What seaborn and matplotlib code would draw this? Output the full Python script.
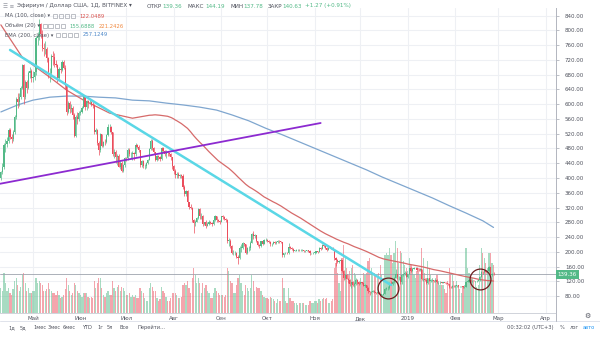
import numpy as np
import pandas as pd
import matplotlib
matplotlib.use("Agg")
import matplotlib.pyplot as plt
import matplotlib.dates as mdates
import matplotlib.transforms as mtrans
from matplotlib.patches import Rectangle
import seaborn as sns

sns.set_theme(style="white")
plt.rcParams["font.family"] = ["DejaVu Sans"]

# ---------------- data (ETH/USD, Bitfinex, daily) ----------------
first_day = "2018-04-10"
open0 = 400.0
close = [
    415, 430, 490, 492, 500, 530, 510, 505, 525, 565, 615, 605, 620, 645, 705, 620, 660, 645, 685, 690, 670,
    673, 686, 779, 785, 816, 790, 752, 750, 750, 725, 678, 684, 730, 729, 708, 707, 670, 695, 694, 715, 699, 650, 579, 604, 586, 591, 571, 514, 566, 561, 577,
    579, 591, 619, 592, 608, 605, 606, 601, 598, 525, 530, 495, 476, 518, 488, 498, 497, 516, 537, 537, 525, 465, 470, 456, 459, 430, 441, 420, 434, 455,
    454, 475, 465, 466, 468, 465, 490, 484, 475, 434, 447, 432, 433, 440, 450, 478, 500, 480, 470, 449, 460, 456, 451, 480, 474, 464, 470, 468, 466, 457, 432,
    420, 409, 411, 405, 408, 406, 375, 356, 365, 334, 321, 319, 286, 277, 281, 292, 316, 296, 298, 274, 280, 271, 276, 280, 278, 274, 286, 296, 285, 283, 281,
    296, 294, 289, 285, 230, 230, 215, 197, 197, 198, 186, 182, 211, 211, 223, 220, 198, 209, 210, 225, 247, 242, 245, 229, 219, 215, 228, 222, 231, 233,
    230, 227, 220, 222, 226, 225, 227, 229, 228, 226, 190, 196, 197, 196, 213, 210, 208, 203, 203, 205, 206, 204, 204, 205, 202, 203, 204, 203, 196, 196, 198,
    198, 201, 200, 209, 208, 218, 217, 210, 205, 211, 212, 210, 206, 182, 178, 173, 176, 178, 149, 130, 138, 126, 124, 113, 117, 110, 112, 124, 119, 113,
    117, 116, 108, 109, 103, 93, 91, 92, 95, 91, 89, 90, 86, 84, 84, 86, 100, 101, 101, 114, 113, 118, 130, 140, 131, 132, 117, 137, 139, 143, 133,
    140, 155, 148, 153, 156, 157, 151, 150, 152, 126, 126, 124, 115, 128, 121, 123, 123, 120, 124, 117, 117, 118, 116, 117, 116, 115, 112, 105, 104, 108, 106,
    107, 110, 106, 106, 107, 104, 104, 119, 119, 124, 120, 122, 121, 121, 121, 123, 133, 146, 145, 149, 145, 148, 158, 136, 140, 139.36,
]
high = [
    420, 440, 495, 505, 510, 535, 535, 520, 530, 570, 620, 630, 630, 650, 710, 710, 665, 665, 690, 700, 695,
    690, 690, 785, 795, 830, 820, 800, 765, 770, 755, 728, 698, 735, 745, 740, 720, 710, 700, 710, 720, 720, 705, 655, 610, 610, 600, 595, 575, 570, 580, 582,
    585, 595, 625, 622, 612, 612, 612, 610, 605, 600, 535, 532, 500, 522, 520, 500, 505, 520, 545, 545, 540, 525, 478, 475, 465, 465, 445, 445, 437, 456,
    458, 480, 480, 470, 472, 470, 495, 492, 490, 477, 450, 450, 437, 442, 452, 480, 505, 505, 485, 470, 462, 462, 460, 485, 485, 475, 475, 472, 470, 468, 458,
    435, 425, 415, 415, 410, 412, 410, 380, 368, 367, 336, 330, 322, 290, 285, 295, 320, 320, 305, 300, 282, 285, 280, 285, 283, 282, 290, 300, 298, 290, 285,
    298, 300, 297, 292, 288, 238, 235, 218, 205, 202, 200, 190, 215, 222, 226, 225, 220, 212, 215, 228, 250, 255, 248, 246, 230, 222, 230, 232, 236, 238,
    235, 233, 228, 225, 228, 229, 228, 232, 231, 230, 227, 198, 200, 200, 225, 215, 212, 210, 206, 207, 208, 208, 207, 207, 206, 204, 206, 206, 205, 198, 200,
    200, 203, 203, 212, 212, 220, 222, 219, 212, 213, 215, 214, 212, 207, 185, 180, 177, 180, 179, 150, 141, 140, 130, 126, 118, 120, 118, 128, 126, 122,
    119, 119, 117, 112, 110, 104, 95, 94, 97, 96, 92, 91, 91, 88, 86, 87, 102, 105, 106, 117, 120, 120, 132, 152, 141, 135, 133, 139, 141, 148, 145,
    141, 157, 158, 155, 160, 160, 160, 155, 155, 153, 130, 129, 126, 130, 130, 125, 125, 124, 126, 125, 119, 120, 119, 119, 119, 117, 116, 113, 106, 110, 109,
    109, 111, 110, 108, 108, 107, 106, 122, 121, 127, 125, 123, 123, 122, 123, 124, 135, 149, 148, 152, 150, 150, 161, 160, 143, 144.19,
]
low = [
    395, 410, 425, 470, 485, 495, 505, 495, 500, 520, 560, 590, 595, 615, 640, 600, 615, 630, 640, 670, 660,
    660, 665, 680, 760, 775, 780, 745, 730, 735, 715, 670, 660, 675, 705, 700, 700, 660, 665, 685, 690, 695, 640, 570, 575, 575, 580, 560, 510, 510, 545, 555,
    570, 575, 590, 585, 585, 590, 600, 595, 590, 520, 520, 490, 462, 470, 485, 485, 490, 495, 515, 525, 520, 460, 455, 440, 435, 430, 425, 415, 415, 430,
    445, 450, 460, 455, 450, 450, 460, 480, 470, 430, 430, 428, 425, 428, 438, 448, 475, 475, 465, 445, 445, 450, 445, 448, 470, 460, 455, 460, 460, 450, 425,
    410, 400, 400, 400, 400, 400, 370, 350, 350, 330, 315, 315, 280, 252, 270, 280, 290, 290, 290, 270, 272, 265, 270, 272, 274, 270, 272, 284, 282, 280, 276,
    280, 290, 285, 282, 225, 215, 210, 193, 190, 192, 184, 168, 180, 200, 208, 215, 195, 195, 202, 205, 223, 235, 238, 226, 215, 210, 212, 218, 220, 228,
    227, 225, 215, 217, 220, 222, 222, 225, 225, 224, 185, 186, 194, 193, 194, 207, 205, 200, 201, 202, 203, 201, 202, 202, 200, 200, 201, 200, 192, 193, 194,
    195, 196, 198, 199, 204, 207, 214, 208, 203, 204, 209, 207, 204, 178, 162, 170, 170, 173, 146, 124, 126, 125, 115, 107, 103, 107, 104, 110, 114, 110,
    112, 114, 107, 105, 102, 89, 84, 88, 90, 89, 85, 87, 85, 82, 81, 83, 85, 96, 97, 100, 110, 111, 116, 128, 125, 124, 113, 114, 134, 136, 131,
    130, 139, 145, 147, 152, 154, 148, 147, 148, 123, 121, 122, 113, 113, 120, 118, 121, 119, 118, 115, 114, 114, 115, 115, 115, 114, 111, 103, 101, 102, 104,
    105, 105, 105, 105, 105, 102, 103, 104, 117, 117, 119, 118, 120, 119, 119, 120, 122, 131, 139, 143, 143, 142, 146, 132, 135, 137.78,
]
volume = [  # thousand ETH
    25, 22, 40, 30, 22, 25, 20, 18, 24, 32, 35, 28, 22, 26, 38, 40, 30, 22, 25, 20, 20,
    22, 22, 35, 30, 32, 30, 28, 22, 22, 24, 30, 24, 22, 20, 20, 18, 22, 18, 15, 16, 18, 24, 35, 28, 22, 18, 20, 30, 28, 22, 20,
    18, 16, 20, 20, 20, 16, 15, 16, 15, 32, 25, 30, 35, 35, 25, 18, 16, 20, 22, 18, 18, 32, 25, 22, 26, 28, 22, 26, 25, 22,
    18, 18, 20, 16, 18, 16, 18, 15, 15, 25, 22, 20, 15, 12, 12, 25, 30, 26, 22, 22, 15, 12, 14, 26, 22, 20, 16, 12, 12, 15, 20,
    20, 20, 18, 15, 15, 16, 28, 30, 28, 32, 25, 20, 35, 45, 38, 30, 35, 30, 20, 30, 25, 28, 22, 20, 15, 15, 20, 25, 22, 20, 18,
    18, 18, 16, 18, 45, 42, 32, 30, 20, 20, 28, 35, 38, 30, 22, 18, 28, 25, 22, 25, 38, 32, 22, 26, 25, 25, 22, 18, 16, 15,
    15, 14, 16, 15, 14, 12, 10, 14, 12, 12, 35, 25, 12, 10, 25, 15, 12, 12, 10, 10, 8, 10, 10, 10, 10, 8, 8, 8, 12, 10, 10,
    12, 12, 10, 14, 12, 14, 15, 14, 15, 10, 10, 12, 14, 45, 50, 40, 30, 22, 55, 68, 55, 45, 38, 42, 45, 48, 40, 38, 32, 30,
    35, 30, 40, 38, 40, 52, 55, 45, 38, 40, 38, 35, 40, 48, 38, 35, 58, 60, 58, 65, 58, 50, 60, 72, 65, 50, 62, 60, 52, 48, 45,
    42, 55, 48, 45, 38, 35, 42, 45, 38, 65, 55, 40, 35, 52, 45, 38, 35, 32, 35, 38, 32, 28, 28, 28, 24, 20, 32, 45, 40, 38, 32,
    28, 32, 28, 24, 20, 26, 28, 65, 45, 40, 38, 35, 33, 32, 26, 28, 48, 65, 60, 55, 50, 45, 60, 60, 50, 48,
]
# MA(100) before enough daily history is in view
ma100_early_dates = ["2018-04-10", "2018-04-24", "2018-05-12", "2018-05-23", "2018-06-03",
                     "2018-06-20", "2018-07-05", "2018-07-16"]
ma100_early_vals = [815, 727, 673, 638, 611, 576, 562, 570]
# EMA(200)
ema200_dates = ["2018-04-10", "2018-04-21", "2018-05-01", "2018-05-12", "2018-05-23", "2018-06-02",
                "2018-06-13", "2018-06-24", "2018-07-05", "2018-07-16", "2018-07-27", "2018-08-07",
                "2018-08-18", "2018-08-29", "2018-09-08", "2018-09-19", "2018-09-30", "2018-10-11",
                "2018-10-22", "2018-11-02", "2018-11-13", "2018-11-24", "2018-12-05", "2018-12-15",
                "2018-12-26", "2019-01-06", "2019-01-17", "2019-01-28", "2019-02-08", "2019-02-19",
                "2019-02-26"]
ema200_vals = [579, 598, 611, 619, 622, 622, 619, 617, 611, 609, 603, 598, 592, 584, 571, 555,
               535, 517, 498, 479, 460, 441, 422, 403, 384, 365, 346, 325, 305, 284, 266]

# drawings
cyan_dates = ["2018-04-16", "2018-12-21"]
cyan_prices = [747, 110]
purple_dates = ["2018-04-09", "2018-11-05"]
purple_prices = [384, 549]
circle_dates = ["2018-12-19", "2019-02-17"]
circle_prices = [102, 126]

month_ticks = ["2018-05-01", "2018-06-01", "2018-07-01", "2018-08-01", "2018-09-01", "2018-10-01",
               "2018-11-01", "2018-12-01", "2019-01-01", "2019-02-01", "2019-03-01", "2019-04-01"]
month_labels = ["Май", "Июн", "Июл", "Авг", "Сен", "Окт", "Ноя", "Дек", "2019", "Фев", "Мар", "Апр"]
price_ticks = list(range(80, 881, 40))

assert len(close) == len(high) == len(low) == len(volume), (len(close), len(high), len(low), len(volume))
assert len(ema200_dates) == len(ema200_vals)

# ---------------- derived series ----------------
dates = pd.date_range(first_day, periods=len(close), freq="D")
x = mdates.date2num(dates)
c = np.array(close, float)
o = np.array([open0] + close[:-1], float)
hi = np.maximum(np.array(high, float), np.maximum(o, c))
lo = np.minimum(np.array(low, float), np.minimum(o, c))
vol = np.array(volume, float)
up = c >= o

GREEN = "#53b987"
RED = "#eb4d5c"
cols = np.where(up, GREEN, RED)

cs = pd.Series(c, index=dates)
ma_late = cs.rolling(100).mean().dropna()
ma_df = pd.concat([
    pd.DataFrame({"d": mdates.date2num(pd.to_datetime(ma100_early_dates)), "v": ma100_early_vals}),
    pd.DataFrame({"d": mdates.date2num(ma_late.index), "v": ma_late.values}),
])
ema_df = pd.DataFrame({"d": mdates.date2num(pd.to_datetime(ema200_dates)), "v": ema200_vals})

# ---------------- figure / layout ----------------
W, H = 600, 337
fig = plt.figure(figsize=(W / 100, H / 100), dpi=100)
fig.patch.set_facecolor("white")

def fx(px):
    return px / W

def fy(py):
    return 1 - py / H

rect = [0, fy(313), fx(556), (313 - 8) / H]
ax_v = fig.add_axes(rect, zorder=0)
ax = fig.add_axes(rect, zorder=1)
ax.set_facecolor("none")

may1 = mdates.date2num(pd.Timestamp("2018-05-01"))
ppd = 1.53
xlim = (may1 - 33 / ppd, may1 + (556 - 33) / ppd)
ylim = (34.1, 860.7)

# grid on the background axes
grid_c = "#eef0f4"
for t in month_ticks:
    ax_v.axvline(mdates.date2num(pd.Timestamp(t)), color=grid_c, lw=0.8, zorder=0)
blend = mtrans.blended_transform_factory(ax_v.transAxes, ax.transData)
for p in price_ticks:
    ax_v.plot([0, 1], [p, p], transform=blend, color=grid_c, lw=0.8, zorder=0)

# volume
ax_v.bar(x, vol, width=0.8, color=cols, alpha=0.5, linewidth=0, zorder=1)
ax_v.axis("off")

# indicators
sns.lineplot(data=ema_df, x="d", y="v", ax=ax, color="#7fa6cf", lw=0.9, zorder=2)
sns.lineplot(data=ma_df, x="d", y="v", ax=ax, color="#d66a6a", lw=0.9, zorder=2)

# candles
ax.vlines(x, lo, hi, color=cols, lw=0.5, zorder=3)
body = np.maximum(np.abs(c - o), 0.8)
ax.bar(x, body, bottom=np.minimum(o, c), width=0.75, color=cols, linewidth=0, zorder=3)

# drawings
ax.plot(mdates.date2num(pd.to_datetime(cyan_dates)), cyan_prices, color="#5ad7e6", lw=1.8, zorder=4,
        solid_capstyle="round")
ax.plot(mdates.date2num(pd.to_datetime(purple_dates)), purple_prices, color="#8c2ad0", lw=1.3, zorder=4)
ax.plot(mdates.date2num(pd.to_datetime(circle_dates)), circle_prices, ls="none", marker="o",
        markersize=15, markerfacecolor="none", markeredgecolor="#6b1d1d", markeredgewidth=0.9, zorder=5)

# last price line
ax.axhline(c[-1], color="#9ea3ad", lw=0.6, zorder=1.5)

# limits (after all plotting)
for a in (ax, ax_v):
    a.set_xlim(*xlim)
ax.set_ylim(*ylim)
ax_v.set_ylim(0, vol.max() * 305 / 72)

# axes styling
ax.set_xlabel("")
ax.set_ylabel("")
ax.yaxis.tick_right()
ax.set_yticks(price_ticks)
ax.set_yticklabels([f"{p:.2f}" for p in price_ticks])
ax.set_xticks(mdates.date2num(pd.to_datetime(month_ticks)))
ax.set_xticklabels(month_labels)
ax.tick_params(axis="y", labelsize=4.0, colors="#b2b5be", labelcolor="#50535e", length=2.5, width=0.6, pad=4, right=True, left=False)
ax.tick_params(axis="x", labelsize=4.0, labelcolor="#50535e", length=0, pad=2.5)
ax.set_ylim(*ylim)
for s in ["top", "left"]:
    ax.spines[s].set_visible(False)
ax.spines["right"].set_color("#b2b5be")
ax.spines["right"].set_linewidth(0.7)
ax.spines["bottom"].set_color("#d0d3da")
ax.spines["bottom"].set_linewidth(0.7)

# price label box
blend2 = mtrans.blended_transform_factory(ax.transAxes, ax.transData)
ax.text(1.003, c[-1], f"{c[-1]:.2f}", transform=blend2, fontsize=4.0, color="white", va="center", ha="left",
        bbox=dict(boxstyle="square,pad=0.35", fc=GREEN, ec="none"), zorder=6, clip_on=False)

# ---------------- header / legend texts ----------------
TXT = "#50535e"
renderer = fig.canvas.get_renderer()

def put(px, py, s, size, color, **kw):
    t = fig.text(fx(px), fy(py), s, fontsize=size, color=color, va="center", **kw)
    bb = t.get_window_extent(renderer=renderer)
    return px + bb.width  # right edge in px

fig.text(fx(3), fy(6), "☰ ≡", fontsize=4.0, color="#9598a1", va="center")
put(17, 6, "Эфириум / Доллар США, 1Д, BITFINEX ▾", 4.1, TXT)
hdr = [(147, "ОТКР", "139.36"), (188, "МАКС", "144.19"), (230, "МИН", "137.78"), (262, "ЗАКР", "140.63")]
end = 0
for px_, lab, val in hdr:
    e = put(max(px_, end + 4), 6, lab, 4.1, TXT)
    end = put(e + 0.5, 6, val, 4.1, GREEN)
put(end + 3, 6, "+1.27 (+0.91%)", 4.1, GREEN)

legend_rows = [
    (16, "MA (100, close) ▾", 50, [("122.0489", "#d9534f")]),
    (26, "Объём (20) ▾", 42, [("155.6888", GREEN), ("221.2426", "#f0883e")]),
    (35, "EMA (200, close) ▾", 48, [("257.1249", "#4a86c8")]),
]
for py, lab, sq_x, vals in legend_rows:
    e = put(5, py, lab, 3.8, TXT)
    sq0 = max(sq_x, e + 2.5)
    for k in range(4):
        fig.patches.append(Rectangle((fx(sq0 + k * 6.0), fy(py + 2.3)), fx(4.6), 4.6 / H,
                                     transform=fig.transFigure, fill=False, ec="#a3a6af", lw=0.5))
    vx = sq0 + 27
    for v, col in vals:
        vx = put(vx, py, v, 3.8, col) + 4

# bottom toolbar
fig.add_artist(plt.Line2D([0, 1], [fy(321), fy(321)], transform=fig.transFigure, color="#e0e3eb", lw=0.7))
fig.add_artist(plt.Line2D([fx(556), fx(556)], [fy(313), fy(321)], transform=fig.transFigure, color="#b2b5be", lw=0.7))
fig.text(fx(587), fy(315.5), "⚙", fontsize=5.0, color="#50535e", ha="center", va="center")
for px_, lab in [(8, "1д"), (20, "5д"), (33, "1мес"), (48, "3мес"), (63, "6мес"), (82, "YTD"),
                 (97, "1г"), (107, "5л"), (119, "Все"), (137, "Перейти...")]:
    fig.text(fx(px_), fy(327.5), lab, fontsize=3.7, color=TXT, va="center")
fig.text(fx(507), fy(327.5), "00:32:02 (UTC+3)", fontsize=3.7, color=TXT, va="center")
fig.text(fx(560), fy(327.5), "%", fontsize=3.7, color=TXT, va="center")
fig.text(fx(570), fy(327.5), "лог", fontsize=3.7, color=TXT, va="center")
fig.text(fx(583), fy(327.5), "авто", fontsize=3.7, color="#2196f3", va="center")

fig.savefig("out.png", dpi=100, facecolor="white")
